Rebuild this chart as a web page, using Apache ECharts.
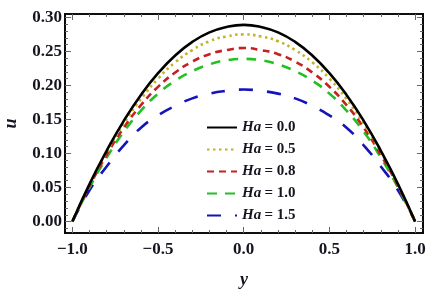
<!DOCTYPE html>
<html><head><meta charset="utf-8">
<script src="https://cdn.jsdelivr.net/npm/echarts@6/dist/echarts.min.js"></script>
<style>html,body{margin:0;padding:0;background:#fff}#c{width:437px;height:298px}</style>
</head><body><div id="c"></div>
<script>
// ---- data ----
const yPos = [-1.0,-0.9,-0.8,-0.7,-0.6,-0.5,-0.4,-0.3,-0.2,-0.1,0.0,0.1,0.2,0.3,0.4,0.5,0.6,0.7,0.8,0.9,1.0];
const seriesNames = ['Ha = 0.0','Ha = 0.5','Ha = 0.8','Ha = 1.0','Ha = 1.5'];
const uHa00 = [0,0.055,0.104,0.148,0.186,0.218,0.244,0.264,0.278,0.286,0.289,0.286,0.278,0.264,0.244,0.218,0.186,0.148,0.104,0.055,0];
const uHa05 = [0,0.054,0.102,0.144,0.180,0.210,0.234,0.252,0.265,0.272,0.275,0.272,0.265,0.252,0.234,0.210,0.180,0.144,0.102,0.054,0];
const uHa08 = [0,0.052,0.098,0.138,0.171,0.198,0.219,0.235,0.246,0.252,0.255,0.252,0.246,0.235,0.219,0.198,0.171,0.138,0.098,0.052,0];
const uHa10 = [0,0.050,0.094,0.132,0.163,0.188,0.207,0.221,0.231,0.237,0.239,0.237,0.231,0.221,0.207,0.188,0.163,0.132,0.094,0.050,0];
const uHa15 = [0,0.046,0.081,0.112,0.138,0.156,0.170,0.181,0.188,0.192,0.194,0.192,0.188,0.181,0.170,0.156,0.138,0.112,0.081,0.046,0];
const xMajorTicks = [-1.0,-0.5,0.0,0.5,1.0];
const xMinorTicks = [-1.0,-0.9,-0.8,-0.7,-0.6,-0.5,-0.4,-0.3,-0.2,-0.1,0.0,0.1,0.2,0.3,0.4,0.5,0.6,0.7,0.8,0.9,1.0];
const yMajorTicks = [0.00,0.05,0.10,0.15,0.20,0.25,0.30];
const yMinorTicks = [];
for (let k = -1; k <= 30; k++) yMinorTicks.push(+(k/100).toFixed(2));
// ---- style ----
const colors = ['#000000','#c2b224','#c42222','#22c022','#1414b8'];
const dashes = ['solid',[2.5,3.5],[7,5],[10,8],[14,14]];
const allU = [uHa00,uHa05,uHa08,uHa10,uHa15];
const X0=-1.043, X1=1.046, Y0=-0.0168, Y1=0.305;
const font = '"Liberation Serif", "DejaVu Serif", serif';

function xAx(pos, ticks, len, labels, name){
  return {type:'value', position:pos, min:X0, max:X1, splitLine:{show:false},
    axisLine:{show:true, onZero:false, lineStyle:{color:'#000', width:1.6}},
    axisTick:{show:true, inside:true, length:len, customValues:ticks, lineStyle:{color:'#666', width:1}},
    axisLabel:{show:labels, customValues:ticks, margin:8, color:'#151520', fontFamily:font, fontWeight:'bold', fontSize:17,
      formatter:v=>v.toFixed(1).replace('-','\u2212')},
    name:name||'', nameLocation:'middle', nameGap:38,
    nameTextStyle:{fontFamily:font, fontStyle:'italic', fontWeight:'bold', fontSize:18, color:'#151520'}};
}
function yAx(pos, ticks, len, labels, name){
  return {type:'value', position:pos, min:Y0, max:Y1, splitLine:{show:false},
    axisLine:{show:true, onZero:false, lineStyle:{color:'#000', width:1.6}},
    axisTick:{show:true, inside:true, length:len, customValues:ticks, lineStyle:{color:'#666', width:1}},
    axisLabel:{show:labels, customValues:ticks, margin:3, color:'#151520', fontFamily:font, fontWeight:'bold', fontSize:17,
      formatter:v=>v.toFixed(2)},
    name:name||'', nameLocation:'middle', nameGap:45, nameRotate:90,
    nameTextStyle:{fontFamily:font, fontStyle:'italic', fontWeight:'bold', fontSize:18, color:'#151520'}};
}

const chart = echarts.init(document.getElementById('c'), null, {renderer:'canvas'});
chart.setOption({
  animation:false,
  grid:{left:65, top:14, right:14, bottom:65, containLabel:false, outerBoundsMode:'none'},
  xAxis:[xAx('bottom', xMajorTicks, 6, true, 'y'), xAx('bottom', xMinorTicks, 3, false),
         xAx('top', xMajorTicks, 6, false), xAx('top', xMinorTicks, 3, false)],
  yAxis:[yAx('left', yMajorTicks, 6, true, 'u'), yAx('left', yMinorTicks, 3, false),
         yAx('right', yMajorTicks, 6, false), yAx('right', yMinorTicks, 3, false)],
  legend:{orient:'vertical', left:201, top:115, itemWidth:30, itemHeight:14, itemGap:7,
    data:seriesNames, itemStyle:{opacity:0},
    formatter:n=>'{i|Ha} {n|'+n.slice(3)+'}',
    textStyle:{rich:{
      i:{fontFamily:font, fontStyle:'italic', fontWeight:'bold', fontSize:15, color:'#151520'},
      n:{fontFamily:font, fontWeight:'bold', fontSize:15, color:'#151520'}}}},
  series: seriesNames.map((nm,i)=>({
    name:nm, type:'line', smooth:true, showSymbol:false, symbol:'none',
    xAxisIndex:0, yAxisIndex:0, z:10-i,
    data: yPos.map((y,j)=>[y, allU[i][j]]),
    lineStyle:{color:colors[i], width:2.6, type:dashes[i]},
    itemStyle:{color:colors[i]}
  }))
});
</script></body></html>
